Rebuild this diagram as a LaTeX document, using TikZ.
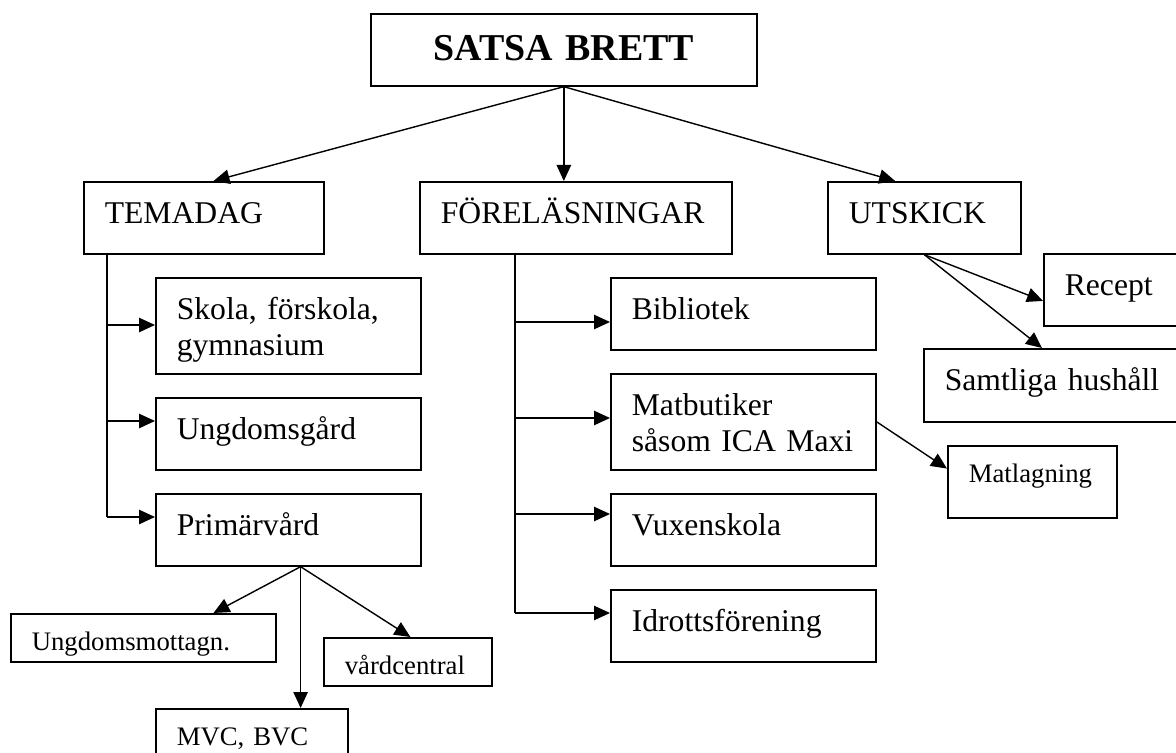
\documentclass[tikz,border=0pt]{standalone}
\usepackage{fontspec}
\setmainfont{Liberation Serif}
\usetikzlibrary{arrows.meta,calc}

\begin{document}
\begin{tikzpicture}[
    box/.style={draw, line width=1.2pt, anchor=north west, inner xsep=0.525cm, inner ysep=0pt,
      align=left, font=\fontsize{22.5}{26}\selectfont, text height=1.04cm},
    smallbox/.style={box, font=\fontsize{19}{22}\selectfont, text height=0.91cm},
    arr/.style={line width=1pt, -{Triangle[length=0.4cm,width=0.36cm]}},
    trunk/.style={line width=1pt}
  ]
    \useasboundingbox (0,0) rectangle (29.4,-18.825);
    \clip (0,0) rectangle (29.4,-18.825);

    \node[box, align=center, font=\fontsize{27}{32}\selectfont\bfseries, text width=8.6cm,
      text height=1.175cm, text depth=0.625cm] (satsa) at (9.25,-0.325) {SATSA BRETT};

    \node[box, text width=4.95cm, text depth=0.76cm] (temadag) at (2.075,-4.525) {TEMADAG};
    \node[box, text width=6.75cm, text depth=0.76cm] (forel) at (10.475,-4.525) {FÖRELÄSNINGAR};
    \node[box, text width=3.775cm, text depth=0.76cm] (utskick) at (20.675,-4.525) {UTSKICK};

    \node[box, text width=5.575cm, text depth=1.36cm] (skola) at (3.875,-6.925) {Skola, förskola,\\gymnasium};
    \node[box, text width=5.575cm, text depth=0.76cm] (ungdom) at (3.875,-9.925) {Ungdomsgård};
    \node[box, text width=5.575cm, text depth=0.76cm] (primar) at (3.875,-12.325) {Primärvård};

    \node[smallbox, text width=5.575cm, text depth=0.29cm] (ungmott) at (0.25,-15.325) {Ungdomsmottagn.};
    \node[smallbox, text width=3.15cm, text depth=0.29cm] (vardc) at (8.075,-15.925) {vårdcentral};
    \node[smallbox, text width=3.75cm, text depth=0.89cm] (mvc) at (3.875,-17.7) {MVC, BVC};

    \node[box, text width=5.575cm, text depth=0.76cm] (bibl) at (15.25,-6.925) {Bibliotek};
    \node[box, text width=5.575cm, text depth=1.36cm] (matbut) at (15.25,-9.325) {Matbutiker\\såsom ICA Maxi};
    \node[box, text width=5.575cm, text depth=0.76cm] (vuxen) at (15.25,-12.325) {Vuxenskola};
    \node[box, text width=5.575cm, text depth=0.76cm] (idrott) at (15.25,-14.725) {Idrottsförening};

    \node[smallbox, text width=3.175cm, text depth=0.89cm] (matlag) at (23.675,-11.125) {Matlagning};
    \node[box, text width=3.45cm, text depth=0.76cm] (recept) at (26.075,-6.325) {Recept};
    \node[box, text width=5.95cm, text depth=0.785cm] (samtl) at (23.075,-8.7) {Samtliga hushåll};

    \coordinate (tt1) at (2.675,-8.125);
    \coordinate (tt2) at (2.675,-10.525);
    \coordinate (tt3) at (2.675,-12.925);

    \coordinate (ft1) at (12.87,-8.05);
    \coordinate (ft2) at (12.87,-10.45);
    \coordinate (ft3) at (12.87,-12.85);
    \coordinate (ft4) at (12.87,-15.325);

    \coordinate (pf) at ($(primar.south west)!0.546!(primar.south east)$);

    \draw[arr] (satsa.south) -- ($(temadag.north west)!0.54!(temadag.north east)$);
    \draw[arr] (satsa.south) -- (satsa.south |- forel.north);
    \draw[arr] (satsa.south) -- ($(utskick.north west)!0.35!(utskick.north east)$);

    \draw[trunk] (temadag.south -| tt1) -- (tt3);
    \foreach \c/\n in {tt1/skola, tt2/ungdom, tt3/primar} {
      \draw[arr] (\c) -- (\n.west |- \c);
    }

    \draw[trunk] (forel.south -| ft1) -- (ft4);
    \foreach \c/\n in {ft1/bibl, ft2/matbut, ft3/vuxen, ft4/idrott} {
      \draw[arr] (\c) -- (\n.west |- \c);
    }

    \draw[arr] (pf) -- ($(ungmott.north west)!0.763!(ungmott.north east)$);
    \draw[arr] (pf) -- (pf |- mvc.north);
    \draw[arr] (pf) -- ($(vardc.north west)!0.515!(vardc.north east)$);

    \draw[arr] (utskick.south) -- ($(recept.north west)!0.65!(recept.south west)$);
    \draw[arr] (utskick.south) -- ($(samtl.north west)+(2.975,0)$);

    \draw[arr] (matbut.east) -- ($(matlag.north west)!0.32!(matlag.south west)$);
  \end{tikzpicture}
\end{document}
